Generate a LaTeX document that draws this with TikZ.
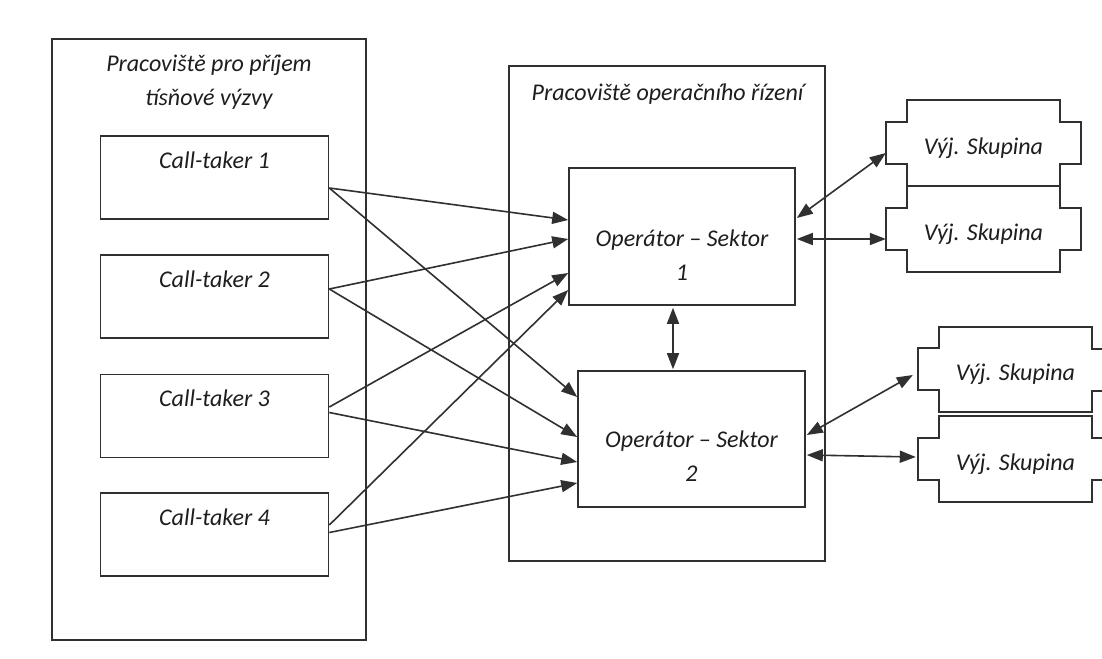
\documentclass[tikz,border=0pt]{standalone}
\usepackage{fontspec}
\setmainfont{Carlito}
\usetikzlibrary{arrows.meta,calc}
\definecolor{linec}{HTML}{303030}
\definecolor{textc}{HTML}{1E1E1E}
\tikzset{
  frame/.style={draw=linec, line width=1.6pt, inner sep=0pt},
  lbl/.style={font=\itshape\fontsize{24}{34}\selectfont, text=textc, align=center, inner sep=0pt},
  edge/.style={draw=linec, line width=1.6pt, line join=miter},
  tip/.style={},
  arr/.style={edge, -{Triangle[length=16pt,width=12pt]}},
  darr/.style={edge, {Triangle[length=16pt,width=12pt]}-{Triangle[length=16pt,width=12pt]}},
  ctbox/.style={frame, minimum width=228pt, minimum height=83pt},
  opbox/.style={frame, minimum width=226pt, minimum height=137pt},
  grpbox/.style={inner sep=0pt, minimum width=153pt, minimum height=86pt},
}
% outline of a group box with a step on both sides
\newcommand\grpoutline[1]{%
  \draw[edge] (#1.north west) -- (#1.north east) -- ($(#1.north east)+(0,22)$)
    -- ++(21,0) -- ++(0,42) -- ++(-21,0) -- (#1.south east) -- (#1.south west)
    -- ($(#1.south west)+(0,-22)$) -- ++(-21,0) -- ++(0,-42) -- ++(21,0) -- cycle;}
\begin{document}
\begin{tikzpicture}[x=1pt,y=-1pt]
\useasboundingbox[fill=white] (0,0) rectangle (1102,658);

% two workplaces
\node[frame, minimum width=314pt, minimum height=601pt] (wpA) at (209,339.5) {};
\node[lbl] (wpAt) at (209,82.5) {Pracoviště pro příjem\\tísňové výzvy};
\node[frame, minimum width=316pt, minimum height=495pt] (wpB) at (667,313.5) {};
\node[lbl] (wpBt) at (667.5,94) {Pracoviště operačního řízení};

% call-takers
\foreach \i/\y in {1/177.5, 2/296.5, 3/416, 4/534.5}{
  \node[ctbox] (ct\i) at (214.5,\y) {};
  \node[lbl] (ct\i t) at ($(ct\i.north)+(0,25)$) {Call-taker \i};
}

% sector operators
\node[opbox] (op1) at (682,236.5) {};
\node[lbl] (op1t) at ($(op1.center)+(0,19)$) {Operátor – Sektor\\1};
\node[opbox, minimum width=227pt, minimum height=136pt] (op2) at (691.5,439) {};
\node[lbl] (op2t) at ($(op2.center)+(0,17)$) {Operátor – Sektor\\2};

% response groups
\node[grpbox] (g1) at (983.5,143) {};
\node[grpbox] (g2) at (983.5,229) {};
\node[grpbox, minimum height=85pt] (g3) at (1015.5,369.5) {};
\node[grpbox] (g4) at (1015.5,459) {};
\foreach \g in {g1,g2,g3,g4}{
  \grpoutline{\g}
  \node[lbl] (\g t) at ($(\g.center)+(0,5)$) {Výj. Skupina};
}

% call-takers to operators
\draw[arr] ($(ct1.east)+(0,10.5)$) -- ($(op1.west)+(0,-16.5)$);
\draw[arr] ($(ct1.east)+(0,10.5)$) -- ($(op2.west)+(0,-42)$);
\draw[arr] ($(ct2.east)+(0,-7.5)$) -- ($(op1.west)+(0,2.5)$);
\draw[arr] ($(ct2.east)+(0,-7.5)$) -- ($(op2.west)+(0,-2)$);
\draw[arr] ($(ct3.east)+(0,-9)$) -- ($(op1.west)+(0,36.5)$);
\draw[arr] ($(ct3.east)+(0,-3.5)$) -- ($(op2.west)+(0,23)$);
\draw[arr] ($(ct4.east)+(0,-9.5)$) -- ($(op1.west)+(0,53.5)$);
\draw[arr] ($(ct4.east)+(0,-2)$) -- ($(op2.west)+(0,44)$);

% between operators
\draw[darr] ($(op1.south)+(-9,2)$) -- ($(op2.north)+(-18.5,-1)$);

% operators to groups
\draw[darr] ($(op1.east)+(1,-18.5)$) -- ($(g1.west)+(-21,10)$);
\draw[darr] ($(op1.east)+(1,2.5)$) -- ($(g2.west)+(-21,10)$);
\draw[darr] ($(op2.east)+(1,-4)$) -- ($(g3.west)+(-26,5.5)$);
\draw[darr] ($(op2.east)+(1,16)$) -- ($(g4.west)+(-23,-2)$);
\end{tikzpicture}
\end{document}
